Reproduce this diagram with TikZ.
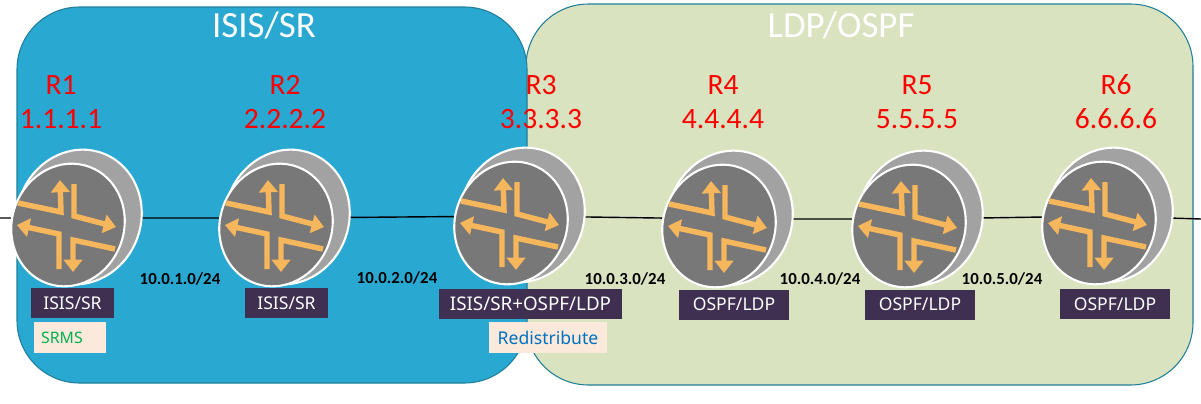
\documentclass[tikz,border=0pt]{standalone}
\usepackage{fontspec}
\setmainfont{Carlito}
\usetikzlibrary{arrows.meta}
\definecolor{srblue}{HTML}{29A8D2}
\definecolor{ldpgreen}{HTML}{D9E3BF}
\definecolor{areaedge}{HTML}{1F7F9A}
\definecolor{tagdark}{HTML}{3F2F50}
\definecolor{tagpale}{HTML}{FBE9DB}
\definecolor{faceg}{HTML}{787878}
\definecolor{rimg}{HTML}{A2A2A2}
\definecolor{arrowor}{HTML}{F6B65C}
\definecolor{srmsgreen}{HTML}{00B050}
\definecolor{redisblue}{HTML}{0070C0}
\tikzset{
  area/.style={draw=areaedge, line width=0.6pt, rounded corners=1.25cm},
  areatitle/.style={text=white, font=\fontsize{21}{21}\selectfont},
  routerlabel/.style={text=red, font=\fontsize{16.8}{17}\selectfont},
  subnet/.style={text=black, font=\fontsize{9.6}{12}\selectfont\bfseries},
  protobox/.style={fill=tagdark, text=white, minimum height=0.6cm, inner sep=0pt, font=\fontsize{10}{12}\selectfont\sffamily},
  notebox/.style={fill=tagpale, minimum height=0.62cm, inner sep=0pt, font=\fontsize{10}{12}\selectfont\sffamily},
  arrowline/.style={draw=arrowor, line width=3.1pt, -{Triangle[length=7pt,width=10.5pt]}},
  router/.pic={
    \draw[white, line width=1.2pt, fill=rimg, rotate around={-20:(3,-1)}] (3,-1) ellipse [x radius=62, y radius=68];
    \draw[white, line width=1.2pt, fill=faceg, rotate around={-20:(-8,7)}] (-8,7) ellipse [x radius=56, y radius=62];
    \draw[arrowline] (-58,-15) -- (-15,-6) -- (-16,-38);
    \draw[arrowline] (-2,-34) -- (-2,-2) -- (40,9);
    \draw[arrowline] (39,31) -- (-3,22) -- (-3,54);
    \draw[arrowline] (-17,51) -- (-17,16) -- (-59,7);
  }
}
\setsansfont{Noto Sans}
\begin{document}
\begin{tikzpicture}[x=0.02cm,y=-0.02cm]
  \useasboundingbox (0,0) rectangle (1201,403);
  % the two areas
  \draw[area, fill=ldpgreen] (526,4) rectangle (1193,385);
  \draw[area, fill=srblue] (17,7) rectangle (527,383);
  \node[areatitle] (isis) at (264,25) {ISIS/SR};
  \node[areatitle] (ldp) at (841,25) {LDP/OSPF};
  % router positions
  \node[inner sep=0pt] (r1) at (76,218) {};
  \node[inner sep=0pt] (r2) at (284,218) {};
  \node[inner sep=0pt] (r3) at (519,216) {};
  \node[inner sep=0pt] (r4) at (727,219) {};
  \node[inner sep=0pt] (r5) at (917,219) {};
  \node[inner sep=0pt] (r6) at (1107,216) {};
  \coordinate (leftend) at (0,218);
  \coordinate (rightend) at (1201,219);
  % links
  \draw[line width=0.8pt] (leftend) -- (r1) -- (r2) -- (r3) -- (r4) -- (r5) -- (r6) -- (rightend);
  \foreach \r in {r1,r2,r3,r4,r5,r6}
    \pic at (\r) {router};
  % red names and addresses
  \foreach \n/\x/\addr in {1/61/1.1.1.1, 2/285/2.2.2.2, 3/541/3.3.3.3, 4/723/4.4.4.4, 5/917/5.5.5.5, 6/1116/6.6.6.6}{
    \node[routerlabel] (name\n) at (\x,85) {R\n};
    \node[routerlabel] (addr\n) at (\x,119) {\addr};
  }
  % protocol tags
  \node[protobox, minimum width=1.66cm] (tag1) at (72.5,303) {ISIS/SR};
  \node[protobox, minimum width=1.66cm] (tag2) at (286.5,303) {ISIS/SR};
  \node[protobox, minimum width=3.66cm, font=\fontsize{10.7}{12}\selectfont\sffamily] (tag3) at (530.5,303.5) {ISIS/SR+OSPF/LDP};
  \node[protobox, minimum width=2.2cm] (tag4) at (734,304.5) {OSPF/LDP};
  \node[protobox, minimum width=2.2cm] (tag5) at (920,304.5) {OSPF/LDP};
  \node[protobox, minimum width=2.2cm] (tag6) at (1115,304) {OSPF/LDP};
  \node[notebox, minimum width=1.44cm, text=srmsgreen, font=\fontsize{9}{12}\selectfont\sffamily] (srms) at (70,337.5) {\hspace*{-0.32cm}SRMS};
  \node[notebox, minimum width=2.36cm, text=redisblue] (redis) at (548,337.5) {Redistribute};
  % subnets
  \node[subnet] (net1) at (180,279) {10.0.1.0/24};
  \node[subnet] (net2) at (397,278) {10.0.2.0/24};
  \node[subnet] (net3) at (625,279) {10.0.3.0/24};
  \node[subnet] (net4) at (820,279) {10.0.4.0/24};
  \node[subnet] (net5) at (1002,279) {10.0.5.0/24};
\end{tikzpicture}
\end{document}
